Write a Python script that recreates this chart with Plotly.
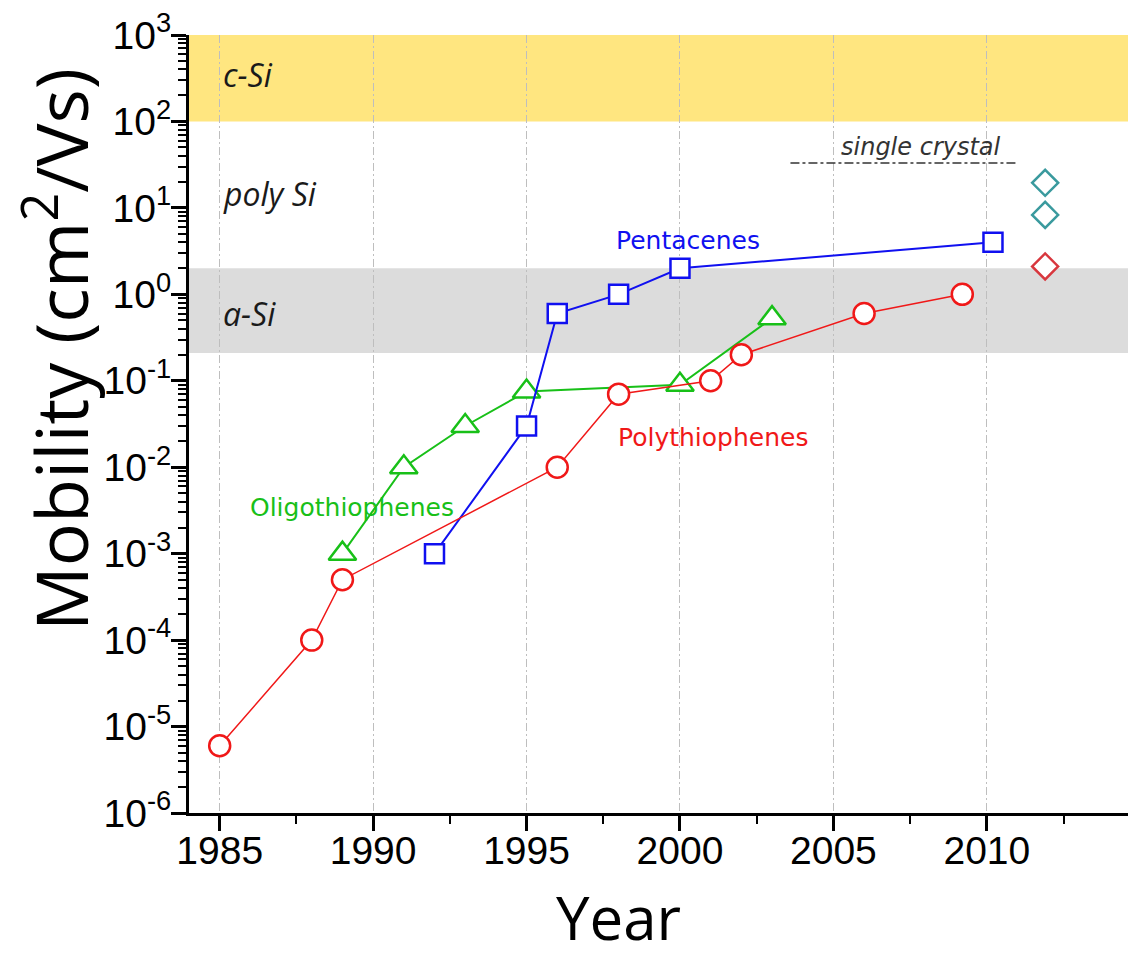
import plotly.graph_objects as go

# ---- data: field-effect mobility of organic semiconductors by year ----
poly_years = [1985, 1988, 1989, 1996, 1998, 2001, 2002, 2006, 2009.2]
poly_mob = [6e-6, 1e-4, 5e-4, 1e-2, 7e-2, 0.1, 0.2, 0.6, 1.0]

oligo_years = [1989, 1991, 1993, 1995, 2000, 2003]
oligo_mob = [1e-3, 1e-2, 3e-2, 7.5e-2, 9e-2, 0.53]

penta_years = [1992, 1995, 1996, 1998, 2000, 2010.2]
penta_mob = [1e-3, 3e-2, 0.6, 1.0, 2.0, 4.0]

crystal_teal_years = [2011.9, 2011.9]
crystal_teal_mob = [19.5, 8.3]
crystal_red_years = [2011.9]
crystal_red_mob = [2.1]

# silicon reference bands (cm^2/Vs)
csi_band = [100, 1000]
asi_band = [0.21, 2.0]
single_crystal_level = 33
single_crystal_span = [2003.6, 2011.0]

x_ticks = [1985, 1990, 1995, 2000, 2005, 2010]
y_exps = list(range(-6, 4))
y_ticks = [10.0 ** e for e in y_exps]
y_ticktext = ["10<sup>%d</sup>" % e for e in y_exps]
y_minor = [m * 10.0 ** e for e in range(-6, 3) for m in range(2, 10)]

X_RANGE = [1984, 2014.6]
Y_RANGE = [-6, 3]

BLUE = "#1010F0"
RED = "#F01818"
GREEN = "#18C018"
TEAL = "#3A9A9E"
DRED = "#D8373E"

fig = go.Figure()

fig.add_trace(go.Scatter(
    x=oligo_years, y=oligo_mob, mode="lines+markers",
    line=dict(color=GREEN, width=2),
    marker=dict(symbol="triangle-up", size=24, color="white",
                line=dict(color=GREEN, width=2.5)),
    name="Oligothiophenes", showlegend=False))

fig.add_trace(go.Scatter(
    x=penta_years, y=penta_mob, mode="lines+markers",
    line=dict(color=BLUE, width=2),
    marker=dict(symbol="square", size=19, color="white",
                line=dict(color=BLUE, width=2.5)),
    name="Pentacenes", showlegend=False))

fig.add_trace(go.Scatter(
    x=poly_years, y=poly_mob, mode="lines+markers",
    line=dict(color=RED, width=1.5),
    marker=dict(symbol="circle", size=21, color="white",
                line=dict(color=RED, width=2.5)),
    name="Polythiophenes", showlegend=False))

fig.add_trace(go.Scatter(
    x=crystal_teal_years, y=crystal_teal_mob, mode="markers",
    marker=dict(symbol="diamond", size=20, color="white",
                line=dict(color=TEAL, width=2.5)),
    showlegend=False))

fig.add_trace(go.Scatter(
    x=crystal_red_years, y=crystal_red_mob, mode="markers",
    marker=dict(symbol="diamond", size=20, color="white",
                line=dict(color=DRED, width=2.5)),
    showlegend=False))

# bands behind the grid
fig.add_shape(type="rect", xref="paper", yref="y", x0=0, x1=1,
              y0=csi_band[0], y1=csi_band[1], fillcolor="#FFE680",
              line=dict(width=0), layer="below")
fig.add_shape(type="rect", xref="paper", yref="y", x0=0, x1=1,
              y0=asi_band[0], y1=asi_band[1], fillcolor="#DCDCDC",
              line=dict(width=0), layer="below")
fig.add_shape(type="line", xref="x", yref="y",
              x0=single_crystal_span[0], x1=single_crystal_span[1],
              y0=single_crystal_level, y1=single_crystal_level,
              line=dict(color="#333333", width=1.5, dash="dashdot"))

band_font = dict(family="Open Sans", size=32, color="#1a1a1a")
for txt, yexp in [("c-Si", 2.54), ("poly Si", 1.17), ("a-Si", -0.22)]:
    fig.add_annotation(x=1985.05, y=yexp, xref="x", yref="y", text="<i>%s</i>" % txt,
                       showarrow=False, xanchor="left", yanchor="middle", font=band_font)

fig.add_annotation(x=2007.86, y=1.70, text="<i>single crystal</i>", showarrow=False,
                   font=dict(family="DejaVu Sans", size=24, color="#333333"))

label_font = "DejaVu Sans"
fig.add_annotation(x=2000.26, y=0.627, text="Pentacenes", showarrow=False,
                   font=dict(family=label_font, size=25, color=BLUE))
fig.add_annotation(x=2001.08, y=-1.653, text="Polythiophenes", showarrow=False,
                   font=dict(family=label_font, size=25, color=RED))
fig.add_annotation(x=1989.31, y=-2.463, text="Oligothiophenes", showarrow=False,
                   font=dict(family=label_font, size=25, color=GREEN))

# axis titles
fig.add_annotation(xref="paper", yref="paper", x=0, y=0.595, xshift=-133,
                   text="Mobility (cm<sup>2</sup>/Vs)", textangle=-90, showarrow=False,
                   xanchor="center", yanchor="middle",
                   font=dict(family="Open Sans", size=72, color="black"))
fig.add_annotation(xref="paper", yref="paper", x=0.457, y=0, yshift=-104,
                   text="Year", showarrow=False, xanchor="center", yanchor="middle",
                   borderpad=0,
                   font=dict(family="Open Sans", size=60, color="black"))

tick_font = dict(family="Liberation Sans, Arial", size=39, color="black")

fig.update_layout(
    width=1128, height=962,
    margin=dict(l=189, r=0, t=35, b=149),
    paper_bgcolor="white", plot_bgcolor="white",
    xaxis=dict(
        range=X_RANGE, tickmode="array", tickvals=x_ticks,
        showline=True, linewidth=3, linecolor="black",
        ticks="outside", ticklen=15, tickwidth=3, tickcolor="black",
        tickfont=tick_font, ticklabelstandoff=-14,
        minor=dict(tickmode="linear", tick0=1982.5, dtick=2.5, ticks="outside",
                   ticklen=8, tickwidth=2, tickcolor="black", showgrid=False),
        showgrid=True, gridcolor="#BEBEBE", gridwidth=1, griddash="8px,3px,2px,3px",
        zeroline=False),
    xaxis2=dict(
        range=X_RANGE, overlaying="x", side="top", anchor="y",
        tickmode="array", tickvals=x_ticks, showticklabels=False,
        showline=True, linewidth=3, linecolor="black",
        ticks="inside", ticklen=15, tickwidth=3, tickcolor="black",
        minor=dict(tickmode="linear", tick0=1982.5, dtick=2.5, ticks="inside",
                   ticklen=8, tickwidth=2, tickcolor="black", showgrid=False),
        showgrid=False, zeroline=False),
    yaxis=dict(
        type="log", range=Y_RANGE, tickmode="array", tickvals=y_ticks,
        ticktext=y_ticktext,
        showline=True, linewidth=3, linecolor="black",
        ticks="outside", ticklen=15, tickwidth=3, tickcolor="black",
        tickfont=tick_font, ticklabelstandoff=-8,
        minor=dict(tickmode="array", tickvals=y_minor, ticks="outside",
                   ticklen=8, tickwidth=2, tickcolor="black", showgrid=False),
        showgrid=False, zeroline=False),
    yaxis2=dict(
        type="log", range=Y_RANGE, overlaying="y", side="right", anchor="x",
        tickmode="array", tickvals=y_ticks, showticklabels=False,
        showline=False, ticks="inside", ticklen=5, tickwidth=3, tickcolor="black",
        showgrid=False, zeroline=False),
)

fig.write_html("out.html")
